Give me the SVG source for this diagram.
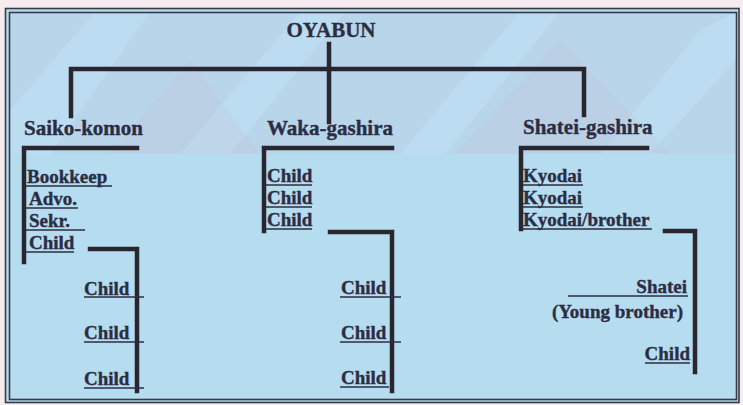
<svg xmlns="http://www.w3.org/2000/svg" width="743" height="405" viewBox="0 0 743 405">
  <style>
    text { font-family: "Liberation Serif", "DejaVu Serif", serif; font-weight: 700; fill: #2c2d42; stroke: #2c2d42; stroke-width: 0.35; }
    .head { font-size: 21px; }
    .item { font-size: 19px; }
    .ul { stroke: #2c2d42; stroke-width: 1.6; fill: none; }
    .bar { stroke: #2a2630; stroke-width: 4.5; fill: none; stroke-linecap: square; stroke-linejoin: miter; }
    .frame { fill: none; stroke: #3a3a44; stroke-width: 1.6; }
  </style>

  <!-- paper and page background -->
  <rect x="0" y="0" width="743" height="405" fill="#f6ecef"/>
  <rect x="5" y="8" width="734" height="395" fill="#b6dcef"/>
  <!-- upper band with faint diagonal shading -->
  <rect x="10" y="12" width="726" height="142" fill="#b8d5ea"/>
  <g fill="#bde0f3" opacity="0.8">
    <polygon points="10,110 95,12 150,12 50,154 10,154"/>
    <polygon points="180,154 300,12 345,12 230,154"/>
    <polygon points="400,154 520,12 560,12 445,154"/>
    <polygon points="600,154 700,30 736,12 736,60 650,154"/>
  </g>
  <g fill="#bfc9dd" opacity="0.35">
    <polygon points="455,154 560,40 670,154"/>
    <polygon points="110,154 190,60 260,154"/>
  </g>

  <!-- double frame -->
  <rect class="frame" x="5.5" y="8.5" width="733.5" height="394"/>
  <rect class="frame" x="9.5" y="12.5" width="727" height="387"/>

  <!-- connectors -->
  <g id="connectors">
    <!-- top tree -->
    <path class="bar" d="M329,44 V122"/>
    <path class="bar" d="M71,116 V69 H584 V115"/>
    <!-- Saiko-komon branch -->
    <path class="bar" d="M137,148 H24 V262"/>
    <path class="bar" d="M90,249 H137 V391"/>
    <!-- Waka-gashira branch -->
    <path class="bar" d="M392,148 H264 V231"/>
    <path class="bar" d="M330,232 H392 V391"/>
    <!-- Shatei-gashira branch -->
    <path class="bar" d="M647,148 H521 V229"/>
    <path class="bar" d="M665,231 H695 V372"/>
  </g>

  <g id="oyabun">
    <text class="head" x="331" y="37" text-anchor="middle">OYABUN</text>
  </g>

  <g id="saiko-komon">
    <text class="head" x="24" y="135">Saiko-komon</text>
  </g>
  <g id="waka-gashira">
    <text class="head" x="267" y="135">Waka-gashira</text>
  </g>
  <g id="shatei-gashira">
    <text class="head" x="523" y="134">Shatei-gashira</text>
  </g>

  <!-- Saiko-komon staff -->
  <g id="bookkeep">
    <text class="item" x="27" y="183">Bookkeep</text>
    <line class="ul" x1="26" y1="186" x2="112" y2="186"/>
  </g>
  <g id="advo">
    <text class="item" x="29" y="205">Advo.</text>
    <line class="ul" x1="26" y1="208" x2="78" y2="208"/>
  </g>
  <g id="sekr">
    <text class="item" x="29" y="227">Sekr.</text>
    <line class="ul" x1="26" y1="230" x2="85" y2="230"/>
  </g>
  <g id="saiko-child">
    <text class="item" x="29" y="249">Child</text>
    <line class="ul" x1="26" y1="252" x2="74" y2="252"/>
  </g>
  <g id="saiko-child-1">
    <text class="item" x="84" y="295">Child</text>
    <line class="ul" x1="84" y1="297" x2="144" y2="297"/>
  </g>
  <g id="saiko-child-2">
    <text class="item" x="84" y="339">Child</text>
    <line class="ul" x1="84" y1="342" x2="144" y2="342"/>
  </g>
  <g id="saiko-child-3">
    <text class="item" x="84" y="385">Child</text>
    <line class="ul" x1="84" y1="388" x2="144" y2="388"/>
  </g>

  <!-- Waka-gashira children -->
  <g id="waka-child-a">
    <text class="item" x="267" y="182">Child</text>
    <line class="ul" x1="265" y1="185" x2="312" y2="185"/>
  </g>
  <g id="waka-child-b">
    <text class="item" x="267" y="204">Child</text>
    <line class="ul" x1="265" y1="207" x2="312" y2="207"/>
  </g>
  <g id="waka-child-c">
    <text class="item" x="267" y="226">Child</text>
    <line class="ul" x1="265" y1="229" x2="312" y2="229"/>
  </g>
  <g id="waka-child-1">
    <text class="item" x="341" y="294">Child</text>
    <line class="ul" x1="340" y1="297" x2="401" y2="297"/>
  </g>
  <g id="waka-child-2">
    <text class="item" x="341" y="339">Child</text>
    <line class="ul" x1="340" y1="342" x2="401" y2="342"/>
  </g>
  <g id="waka-child-3">
    <text class="item" x="341" y="384">Child</text>
    <line class="ul" x1="340" y1="387" x2="389" y2="387"/>
  </g>

  <!-- Shatei-gashira line -->
  <g id="kyodai-1">
    <text class="item" x="523" y="182">Kyodai</text>
    <line class="ul" x1="522" y1="185" x2="583" y2="185"/>
  </g>
  <g id="kyodai-2">
    <text class="item" x="523" y="204">Kyodai</text>
    <line class="ul" x1="522" y1="207" x2="583" y2="207"/>
  </g>
  <g id="kyodai-brother">
    <text class="item" x="523" y="226">Kyodai/brother</text>
    <line class="ul" x1="522" y1="229" x2="652" y2="229"/>
  </g>
  <g id="shatei">
    <text class="item" x="687" y="293" text-anchor="end">Shatei</text>
    <line class="ul" x1="568" y1="296" x2="688" y2="296"/>
    <text class="item" x="683" y="318" text-anchor="end">(Young brother)</text>
  </g>
  <g id="shatei-child">
    <text class="item" x="690" y="360" text-anchor="end">Child</text>
    <line class="ul" x1="645" y1="363" x2="690" y2="363"/>
  </g>
</svg>
